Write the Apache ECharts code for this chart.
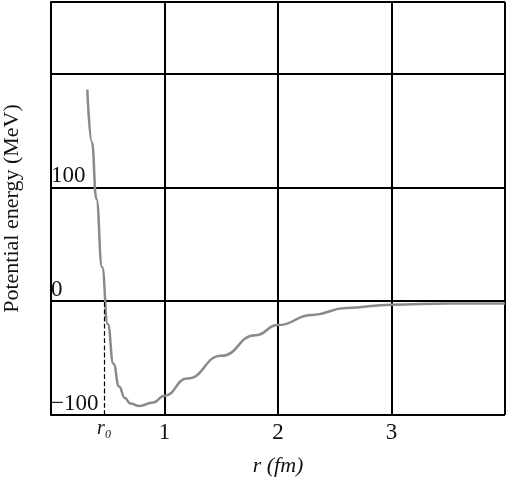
<!DOCTYPE html>
<html><head><meta charset="utf-8">
<script src="https://cdn.jsdelivr.net/npm/echarts@6/dist/echarts.min.js"></script>
<style>html,body{margin:0;padding:0;background:#fff}#c{width:515px;height:481px}</style>
</head><body><div id="c"></div>
<script>
const rValues = [0.32,0.36,0.4,0.45,0.5,0.55,0.6,0.65,0.7,0.78,0.9,1.0,1.2,1.5,1.8,2.0,2.3,2.6,3.0,3.5,4.0];
const energyValues = [186,140,90,30,-20,-55,-75,-85,-90,-92,-89,-83,-68,-48,-30,-21,-12,-6,-3,-2,-2];
const r0 = 0.47;
const xTickLabels = {1:'1',2:'2',3:'3'};
const yTickLabels = {'100':'100','0':'0','-100':'\u2212100'};
const font = 'Liberation Serif, DejaVu Serif, serif';
const chart = echarts.init(document.getElementById('c'));
chart.setOption({
  animation:false,
  grid:{left:51,right:10,top:2,bottom:66,outerBoundsMode:'none',containLabel:false},
  xAxis:{type:'value',min:0,max:4,interval:1,
    name:'r (fm)',nameLocation:'middle',nameGap:40,
    nameTextStyle:{fontFamily:font,fontSize:22,color:'#111',fontStyle:'italic'},
    axisLine:{lineStyle:{color:'#000',width:2}},axisTick:{show:false},
    splitLine:{show:true,lineStyle:{color:'#000',width:2}},
    axisLabel:{fontFamily:font,fontSize:23,color:'#111',margin:6,formatter:v=>xTickLabels[v]||''}},
  yAxis:{type:'value',min:-100,max:263,interval:100,
    name:'Potential energy (MeV)',nameLocation:'middle',nameGap:28,
    nameTextStyle:{fontFamily:font,fontSize:22,color:'#111'},
    axisLine:{show:true,onZero:false,lineStyle:{color:'#000',width:2}},axisTick:{show:false},
    splitLine:{show:true,lineStyle:{color:'#000',width:2}},
    axisLabel:{inside:true,fontFamily:font,fontSize:23,color:'#111',margin:0,verticalAlign:'bottom',
      formatter:v=>yTickLabels[String(v)]||''}},
  series:[{type:'line',data:rValues.map((r,i)=>[r,energyValues[i]]),smooth:true,smoothMonotone:'x',symbol:'none',
    lineStyle:{color:'#8a8a8a',width:2.5},
    markLine:{silent:true,symbol:'none',
      lineStyle:{type:'dashed',color:'#000',width:1.2},
      label:{show:true,position:'start',formatter:'r\u2080',fontFamily:font,fontStyle:'italic',fontSize:20,color:'#111',distance:4},
      data:[[{coord:[r0,-100]},{coord:[r0,0]}]]}}]
});
</script></body></html>
